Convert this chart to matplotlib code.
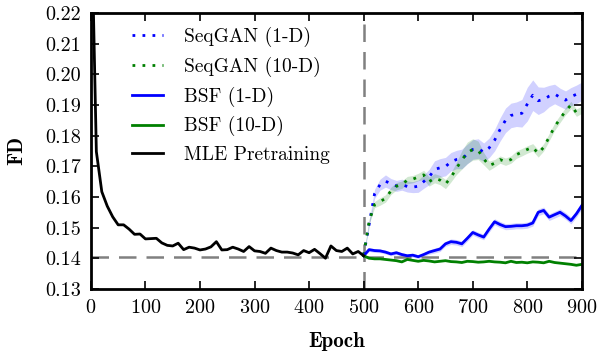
import numpy as np
import matplotlib
matplotlib.use("Agg")
import matplotlib.pyplot as plt

# MLE pretraining, every 10 epochs from 0 to 500
mle_epochs = np.arange(0, 510, 10)
mle_fd = [0.2600, 0.1748, 0.1617, 0.1570, 0.1535, 0.1509, 0.1509, 0.1495, 0.1478, 0.1479,
          0.1463, 0.1464, 0.1465, 0.1450, 0.1442, 0.1440, 0.1449, 0.1428, 0.1436, 0.1433,
          0.1427, 0.1430, 0.1437, 0.1454, 0.1427, 0.1428, 0.1436, 0.1430, 0.1422, 0.1438,
          0.1424, 0.1422, 0.1416, 0.1433, 0.1425, 0.1420, 0.1420, 0.1417, 0.1411, 0.1425,
          0.1418, 0.1429, 0.1415, 0.1400, 0.1440, 0.1425, 0.1422, 0.1433, 0.1414, 0.1422,
          0.1408]

# adversarial phase, every 10 epochs from 500 to 900
adv_epochs = np.arange(500, 910, 10)
seqgan_1d = [0.1410, 0.1510, 0.1610, 0.1640, 0.1652, 0.1642, 0.1636, 0.1640, 0.1634, 0.1632,
             0.1635, 0.1650, 0.1665, 0.1690, 0.1695, 0.1699, 0.1715, 0.1722, 0.1724, 0.1740,
             0.1755, 0.1758, 0.1746, 0.1760, 0.1785, 0.1820, 0.1850, 0.1866, 0.1870, 0.1873,
             0.1903, 0.1932, 0.1914, 0.1918, 0.1929, 0.1936, 0.1925, 0.1916, 0.1927, 0.1935,
             0.1945]
seqgan_1d_sd = [0.0005, 0.0010, 0.0015, 0.0018, 0.0020, 0.0018, 0.0018, 0.0018, 0.0018, 0.0018,
                0.0020, 0.0022, 0.0025, 0.0028, 0.0030, 0.0030, 0.0030, 0.0030, 0.0032, 0.0032,
                0.0032, 0.0032, 0.0030, 0.0032, 0.0035, 0.0038, 0.0040, 0.0040, 0.0040, 0.0045,
                0.0055, 0.0050, 0.0045, 0.0040, 0.0035, 0.0032, 0.0030, 0.0030, 0.0030, 0.0030,
                0.0030]
seqgan_10d = [0.1410, 0.1520, 0.1575, 0.1585, 0.1595, 0.1620, 0.1635, 0.1640, 0.1655, 0.1658,
              0.1665, 0.1672, 0.1650, 0.1661, 0.1655, 0.1642, 0.1664, 0.1693, 0.1721, 0.1744,
              0.1755, 0.1752, 0.1725, 0.1702, 0.1710, 0.1722, 0.1715, 0.1722, 0.1738, 0.1746,
              0.1755, 0.1762, 0.1742, 0.1762, 0.1795, 0.1829, 0.1855, 0.1880, 0.1900, 0.1875,
              0.1885]
seqgan_10d_sd = [0.0005, 0.0008, 0.0010, 0.0012, 0.0012, 0.0012, 0.0012, 0.0012, 0.0012, 0.0012,
                 0.0012, 0.0015, 0.0015, 0.0015, 0.0015, 0.0015, 0.0015, 0.0020, 0.0030, 0.0035,
                 0.0035, 0.0030, 0.0020, 0.0015, 0.0012, 0.0012, 0.0012, 0.0012, 0.0012, 0.0012,
                 0.0012, 0.0012, 0.0012, 0.0012, 0.0012, 0.0012, 0.0012, 0.0012, 0.0012, 0.0012,
                 0.0012]
bsf_1d = [0.1408, 0.1428, 0.1425, 0.1424, 0.1420, 0.1414, 0.1418, 0.1412, 0.1408, 0.1410,
          0.1405, 0.1412, 0.1420, 0.1425, 0.1430, 0.1447, 0.1454, 0.1452, 0.1447, 0.1465,
          0.1484, 0.1476, 0.1469, 0.1495, 0.1519, 0.1510, 0.1503, 0.1504, 0.1506, 0.1506,
          0.1508, 0.1515, 0.1550, 0.1556, 0.1534, 0.1542, 0.1550, 0.1538, 0.1523, 0.1545,
          0.1572]
bsf_1d_sd = [0.0003, 0.0006, 0.0006, 0.0006, 0.0006, 0.0006, 0.0006, 0.0006, 0.0006, 0.0006,
             0.0006, 0.0006, 0.0007, 0.0008, 0.0008, 0.0008, 0.0009, 0.0009, 0.0009, 0.0009,
             0.0009, 0.0009, 0.0009, 0.0010, 0.0010, 0.0010, 0.0010, 0.0010, 0.0010, 0.0010,
             0.0010, 0.0010, 0.0011, 0.0011, 0.0011, 0.0011, 0.0011, 0.0011, 0.0011, 0.0011,
             0.0011]
bsf_10d = [0.1408, 0.1400, 0.1398, 0.1398, 0.1396, 0.1394, 0.1392, 0.1388, 0.1396, 0.1393,
           0.1390, 0.1393, 0.1391, 0.1388, 0.1390, 0.1392, 0.1389, 0.1388, 0.1386, 0.1390,
           0.1389, 0.1387, 0.1388, 0.1390, 0.1388, 0.1387, 0.1385, 0.1390, 0.1386, 0.1387,
           0.1385, 0.1388, 0.1387, 0.1385, 0.1390, 0.1386, 0.1384, 0.1382, 0.1380, 0.1377,
           0.1380]

mle_converged = 0.1405
switch_epoch = 500

plt.rcParams["font.family"] = "cmr10"
plt.rcParams["axes.formatter.use_mathtext"] = True
plt.rcParams["mathtext.fontset"] = "cm"

fig = plt.figure(figsize=(5.98, 3.54), dpi=100)
ax = fig.add_axes([0.152, 0.184, 0.821, 0.779])

blue = "#0000ff"
green = "#008000"
gray = "#808080"

a_ep = adv_epochs
s1 = np.array(seqgan_1d); s1sd = np.array(seqgan_1d_sd)
s10 = np.array(seqgan_10d); s10sd = np.array(seqgan_10d_sd)
b1 = np.array(bsf_1d); b1sd = np.array(bsf_1d_sd)

ax.fill_between(a_ep, s1 - s1sd, s1 + s1sd, color=blue, alpha=0.18, lw=0)
ax.fill_between(a_ep, s10 - s10sd, s10 + s10sd, color=green, alpha=0.18, lw=0)
ax.fill_between(a_ep, b1 - b1sd, b1 + b1sd, color=blue, alpha=0.18, lw=0)

ax.axhline(mle_converged, color=gray, lw=1.8, dashes=(7, 4), zorder=1)
ax.axvline(switch_epoch, color=gray, lw=1.8, dashes=(7, 4), zorder=1)

dot = (0, (1, 2.6))
ax.plot(a_ep, s1, color=blue, lw=2, linestyle=dot, label="SeqGAN (1-D)")
ax.plot(a_ep, s10, color=green, lw=2, linestyle=dot, label="SeqGAN (10-D)")
ax.plot(a_ep, b1, color=blue, lw=2, label="BSF (1-D)")
ax.plot(a_ep, bsf_10d, color=green, lw=2, label="BSF (10-D)")
ax.plot(mle_epochs, mle_fd, color="black", lw=2, label="MLE Pretraining")

ax.set_xlim(0, 900)
ax.set_ylim(0.13, 0.22)
ax.set_xticks(np.arange(0, 1000, 100))
ax.set_yticks(np.arange(0.13, 0.2201, 0.01))
ax.set_yticklabels([f"{v:.2f}" for v in np.arange(0.13, 0.2201, 0.01)])
ax.tick_params(direction="in", top=True, right=True, length=6, width=1.2,
               labelsize=14.5, pad=7)
for sp in ax.spines.values():
    sp.set_linewidth(2)

ax.set_xlabel("Epoch", fontsize=15, family="cmb10", labelpad=11)
ax.set_ylabel("FD", fontsize=15, family="cmb10", labelpad=14)

ax.legend(loc="upper left", frameon=False, fontsize=14, handlelength=1.6,
          handletextpad=1.1, labelspacing=0.5, borderaxespad=0.3,
          bbox_to_anchor=(0.055, 1.0))

fig.savefig("out.png", dpi=100)
